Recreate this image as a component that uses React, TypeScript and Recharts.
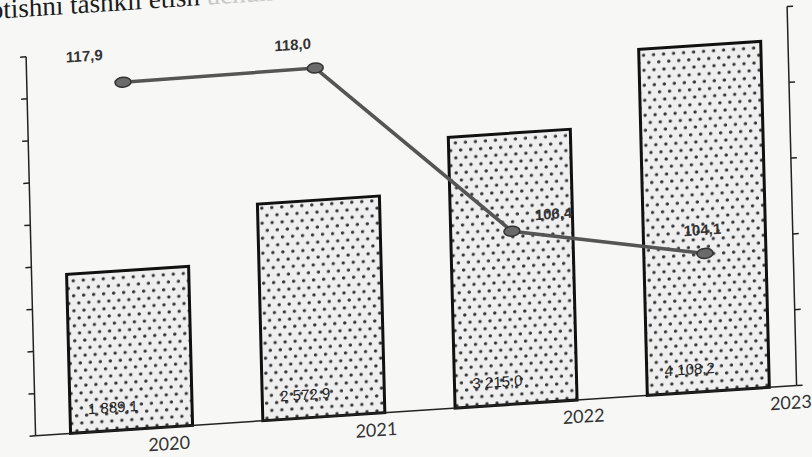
import React from 'react'
import { ComposedChart, Bar, Line, XAxis, YAxis, LabelList } from 'recharts'

const years = ['2020', '2021', '2022', '2023']
const volume = [1889.1, 2572.9, 3215.0, 4108.2]
const growth = [117.9, 118.0, 106.4, 104.1]

const leftTicks = [0, 500, 1000, 1500, 2000, 2500, 3000, 3500, 4000, 4500]
const rightTicks = [95, 100, 105, 110, 115, 120]

// label nudges
const lineLabelShift = [
  [-38, -29],
  [-22, -25],
  [42, -15],
  [-2, -24],
]

const data = years.map((year, i) => ({ year, volume: volume[i], growth: growth[i] }))

const fmt = (v: number) => {
  const [int, dec] = v.toFixed(1).split('.')
  return int.replace(/\B(?=(\d{3})+(?!\d))/g, ' ') + ',' + dec
}

const XTick = (props: any) => {
  const { x, y, payload, index } = props
  return (
    <text
      x={x + 37 + 15 * index}
      y={y + 15}
      textAnchor="middle"
      fontSize={18}
      fontFamily="Lato, 'Open Sans', sans-serif"
      fill="#333"
    >
      {payload.value}
    </text>
  )
}

const BarValue = (props: any) => {
  const { x, y, height, value } = props
  return (
    <text
      x={x + 18}
      y={y + height - 18}
      fontSize={15}
      fontWeight={500}
      fontFamily="'Liberation Sans', Arial, sans-serif"
      fill="#222"
    >
      {fmt(value)}
    </text>
  )
}

const LineValue = (props: any) => {
  const { x, y, value, index } = props
  const [dx, dy] = lineLabelShift[index] || [0, -20]
  return (
    <text
      x={x + dx}
      y={y + dy}
      textAnchor="middle"
      dominantBaseline="central"
      fontSize={15}
      fontWeight={600}
      fontFamily="'Liberation Sans', Arial, sans-serif"
      fill="#333"
    >
      {fmt(value)}
    </text>
  )
}

const Marker = (props: any) => {
  const { cx, cy, index } = props
  return <ellipse key={index} cx={cx} cy={cy} rx={8} ry={5} fill="#6a6a6a" stroke="#333" strokeWidth={1.5} />
}

const noLabel = () => ''

export default function App() {
  return (
    <div style={{ position: 'fixed', inset: 0, background: '#f7f7f5', overflow: 'hidden' }}>
      <div
        style={{
          position: 'absolute',
          left: 0,
          top: 0,
          width: 812,
          height: 457,
          transform: 'matrix(1, -0.066, 0.025, 1, 0, 0)',
          transformOrigin: '406px 228px',
        }}
      >
        <div
          style={{
            position: 'absolute',
            left: -4,
            top: -32,
            fontSize: 27,
            fontFamily: "'Liberation Serif', 'Times New Roman', serif",
            whiteSpace: 'nowrap',
            color: '#1a1a1a',
          }}
        >
          otishni tashkil etish <span style={{ color: '#c8c8c8' }}>uchun</span>
        </div>
        <ComposedChart width={812} height={457} data={data} margin={{ top: 32, right: 0, left: 0, bottom: 16 }}>
          <defs>
            <pattern id="dots" width={10} height={15} patternUnits="userSpaceOnUse">
              <rect width={10} height={15} fill="#efefef" />
              <circle cx={2.5} cy={3.75} r={1.7} fill="#333" />
              <circle cx={7.5} cy={11.25} r={1.7} fill="#333" />
            </pattern>
          </defs>
          <XAxis
            dataKey="year"
            height={30}
            padding={{ left: 0, right: -8 }}
            tickLine={false}
            axisLine={{ stroke: '#222', strokeWidth: 1.5 }}
            tick={<XTick />}
            interval={0}
          />
          <YAxis
            yAxisId="left"
            width={31}
            domain={[0, 4500]}
            ticks={leftTicks}
            interval={0}
            tickFormatter={noLabel}
            tickSize={6}
            axisLine={{ stroke: '#222', strokeWidth: 1.5 }}
            tickLine={{ stroke: '#222', strokeWidth: 1.5 }}
          />
          <YAxis
            yAxisId="right"
            orientation="right"
            width={20}
            domain={[95, 120]}
            ticks={rightTicks}
            interval={0}
            tickFormatter={noLabel}
            tickSize={6}
            axisLine={{ stroke: '#222', strokeWidth: 1.5 }}
            tickLine={{ stroke: '#222', strokeWidth: 1.5 }}
          />
          <Bar
            yAxisId="left"
            dataKey="volume"
            barSize={122}
            fill="url(#dots)"
            stroke="#111"
            strokeWidth={3}
            isAnimationActive={false}
          >
            <LabelList dataKey="volume" content={<BarValue />} />
          </Bar>
          <Line
            yAxisId="right"
            type="linear"
            dataKey="growth"
            stroke="#555"
            strokeWidth={3.5}
            dot={<Marker />}
            activeDot={false}
            isAnimationActive={false}
          >
            <LabelList dataKey="growth" content={<LineValue />} />
          </Line>
        </ComposedChart>
      </div>
    </div>
  )
}
